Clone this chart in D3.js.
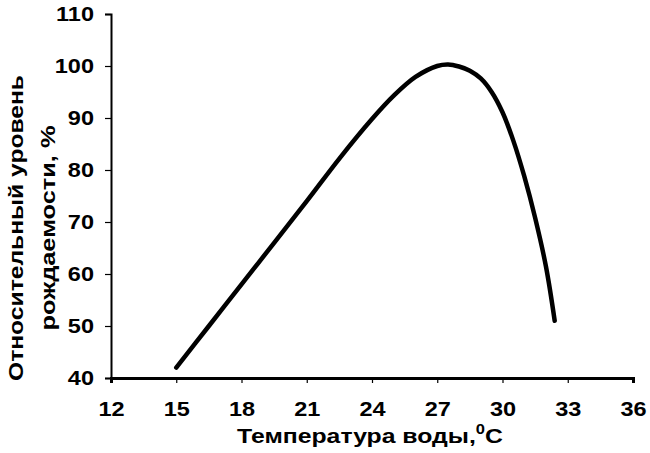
<!DOCTYPE html>
<html>
<head>
<meta charset="utf-8">
<script src="https://cdn.jsdelivr.net/npm/d3@7"></script>
<style>
  body { margin: 0; background: #fff; }
  text { font-family: "Liberation Sans", Arial, sans-serif; font-weight: bold; fill: #000; }
</style>
</head>
<body>
<div id="chart"></div>
<script>
// temperature (x) and relative birth level (y)
var temps  = [15, 16.5, 18, 19.5, 21, 22.5, 24, 25, 26, 27, 27.5, 28, 28.5, 29, 29.5, 30, 30.5, 31, 31.5, 32, 32.4];
var levels = [42, 50, 58, 66, 74, 82.2, 89.8, 94.3, 97.9, 100.0, 100.3, 99.9, 99.1, 97.6, 95.0, 91.1, 85.6, 78.8, 70.8, 61.4, 51];
var xTicks = [12, 15, 18, 21, 24, 27, 30, 33, 36];
var yTicks = [40, 50, 60, 70, 80, 90, 100, 110];
var xTitle = 'Температура воды,';
var yTitle = ['Относительный уровень', 'рождаемости, %'];

var W = 650, H = 453;
var FONT = '"Liberation Sans", Arial, sans-serif';
var svg = d3.select('#chart').append('svg').attr('width', W).attr('height', H);

var x = d3.scaleLinear().domain([12, 36]).range([111, 633]);
var y = d3.scaleLinear().domain([40, 110]).range([378, 14]);

var pts = temps.map(function(t, i){ return [t, levels[i]]; });

// y axis
var ya = svg.append('g').attr('transform', 'translate(111,0)')
    .call(d3.axisLeft(y).tickValues(yTicks).tickSize(6).tickPadding(0));
ya.select('.domain').attr('stroke', '#000').attr('stroke-width', 2);
ya.selectAll('.tick line').attr('stroke', '#000').attr('stroke-width', 1.2);
ya.selectAll('.tick text').attr('font-size', '21px').attr('font-family', FONT).attr('font-weight', 'bold')
    .attr('x', 0).attr('transform', 'translate(-17,0) scale(1.12,1)');

// x axis
var xa = svg.append('g').attr('transform', 'translate(0,378)')
    .call(d3.axisBottom(x).tickValues(xTicks).tickSize(5).tickPadding(0));
xa.select('.domain').attr('stroke', '#000').attr('stroke-width', 3);
xa.selectAll('.tick line').attr('stroke', '#000').attr('stroke-width', 1.2);
xa.selectAll('.tick text').attr('font-size', '21px').attr('font-family', FONT).attr('font-weight', 'bold')
    .attr('y', 0).attr('dy', null).attr('transform', 'translate(0,38) scale(1.12,1)');

// curve
var line = d3.line().x(function(d){ return x(d[0]); }).y(function(d){ return y(d[1]); })
    .curve(d3.curveCatmullRom.alpha(0.5));
svg.append('path').datum(pts).attr('d', line)
    .attr('fill', 'none').attr('stroke', '#000').attr('stroke-width', 4.5).attr('stroke-linecap', 'round');

// axis titles
var xt = svg.append('text').attr('text-anchor', 'middle').attr('font-size', '21px');
xt.append('tspan').text(xTitle);
xt.append('tspan').attr('dy', -9).attr('font-size', '14px').text('0');
xt.append('tspan').attr('dy', 9).text('C');
var xw = xt.node().getComputedTextLength();
xt.attr('transform', 'translate(370,443) scale(' + (266 / xw) + ',1)');

var yLens = [306, 205];
var yBase = [23, 55];
svg.selectAll('text.ytitle').data(yTitle).join('text').attr('class', 'ytitle')
    .attr('transform', function(d, i){ return 'translate(' + yBase[i] + ',228) rotate(-90)'; })
    .attr('text-anchor', 'middle').attr('font-size', '21px')
    .attr('textLength', function(d, i){ return yLens[i]; }).attr('lengthAdjust', 'spacingAndGlyphs')
    .text(function(d){ return d; });
</script>
</body>
</html>
